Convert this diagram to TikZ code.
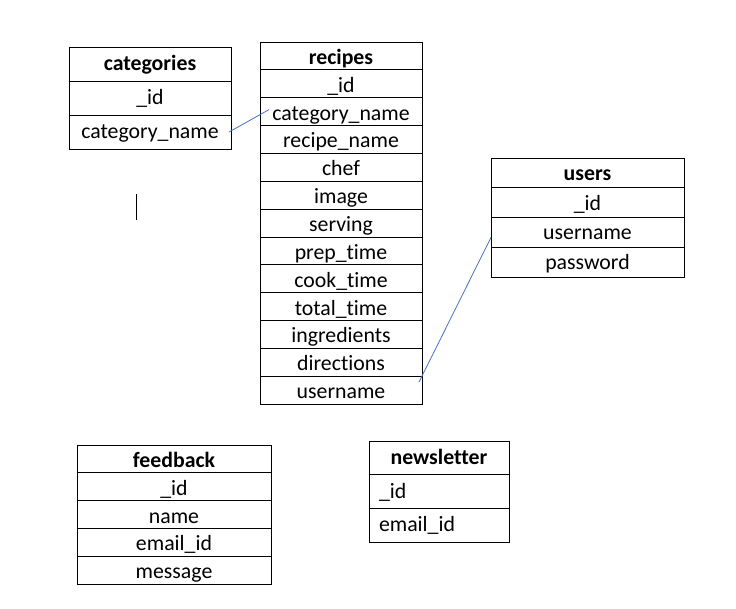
\documentclass[tikz,border=0pt]{standalone}
\usepackage{fontspec}
\setmainfont{Carlito}[Ligatures=NoCommon]
\usetikzlibrary{positioning}
\definecolor{linkblue}{HTML}{4472C4}

\begin{document}
\begin{tikzpicture}[
        x=1pt, y=-1pt,
        node distance=0pt,
        cell/.style={draw, line width=0.8pt, inner sep=0pt, outer sep=0pt, text height=16pt, text depth=3pt, font=\fontsize{21.8}{26}\selectfont},
        hdr/.style={cell, font=\fontsize{21.8}{26}\selectfont\bfseries},
        catcell/.style={minimum width=162pt, minimum height=34pt},
        reccell/.style={minimum width=162pt, minimum height=27.85pt, text height=18pt, text depth=1pt},
        usrcell/.style={minimum width=193pt, minimum height=29.75pt, text height=17pt, text depth=2pt},
        fbcell/.style={minimum width=194pt, minimum height=27.8pt, text height=18pt, text depth=1pt},
        nlcell/.style={minimum width=140pt, minimum height=33.7pt},
        lcell/.style={text width=120pt, inner xsep=10pt, align=left},
        link/.style={draw=linkblue, line width=0.8pt},
    ]
        \useasboundingbox (0,0) rectangle (736,609);

        % categories
        \node[hdr, catcell, anchor=north west] (cat) at (69,47) {categories};
        \node[cell, catcell, below=of cat] (cat-id) {\_id};
        \node[cell, catcell, below=of cat-id] (cat-name) {category\_name};

        % recipes
        \node[hdr, reccell, anchor=north west] (rec) at (260,42) {recipes};
        \node[cell, reccell, below=of rec] (rec-id) {\_id};
        \node[cell, reccell, below=of rec-id] (rec-cat) {category\_name};
        \node[cell, reccell, below=of rec-cat] (rec-name) {recipe\_name};
        \node[cell, reccell, below=of rec-name] (rec-chef) {chef};
        \node[cell, reccell, below=of rec-chef] (rec-img) {image};
        \node[cell, reccell, below=of rec-img] (rec-serv) {serving};
        \node[cell, reccell, below=of rec-serv] (rec-prep) {prep\_time};
        \node[cell, reccell, below=of rec-prep] (rec-cook) {cook\_time};
        \node[cell, reccell, below=of rec-cook] (rec-total) {total\_time};
        \node[cell, reccell, below=of rec-total] (rec-ingr) {ingredients};
        \node[cell, reccell, below=of rec-ingr] (rec-dir) {directions};
        \node[cell, reccell, below=of rec-dir] (rec-user) {username};

        % users
        \node[hdr, usrcell, anchor=north west] (usr) at (491,158) {users};
        \node[cell, usrcell, below=of usr] (usr-id) {\_id};
        \node[cell, usrcell, below=of usr-id] (usr-name) {username};
        \node[cell, usrcell, below=of usr-name] (usr-pass) {password};

        % feedback
        \node[hdr, fbcell, anchor=north west] (fb) at (77,445) {feedback};
        \node[cell, fbcell, below=of fb] (fb-id) {\_id};
        \node[cell, fbcell, below=of fb-id] (fb-name) {name};
        \node[cell, fbcell, below=of fb-name] (fb-mail) {email\_id};
        \node[cell, fbcell, below=of fb-mail] (fb-msg) {message};

        % newsletter
        \node[hdr, nlcell, anchor=north west] (nl) at (369,441) {newsletter};
        \node[cell, nlcell, lcell, below=of nl] (nl-id) {\_id};
        \node[cell, nlcell, lcell, below=of nl-id] (nl-mail) {email\_id};

        % links
        \draw[link] ([xshift=-2pt]cat-name.east) -- ([xshift=9pt, yshift=2pt]rec-cat.west);
        \draw[link] ([xshift=-3pt, yshift=8pt]rec-user.east) -- ([yshift=-5pt]usr-name.west);

        % stray mark
        \coordinate (mark-top) at (136,194);
        \coordinate (mark-bot) at (136,220);
        \draw[line width=0.8pt] (mark-top) -- (mark-bot);
    \end{tikzpicture}
\end{document}
